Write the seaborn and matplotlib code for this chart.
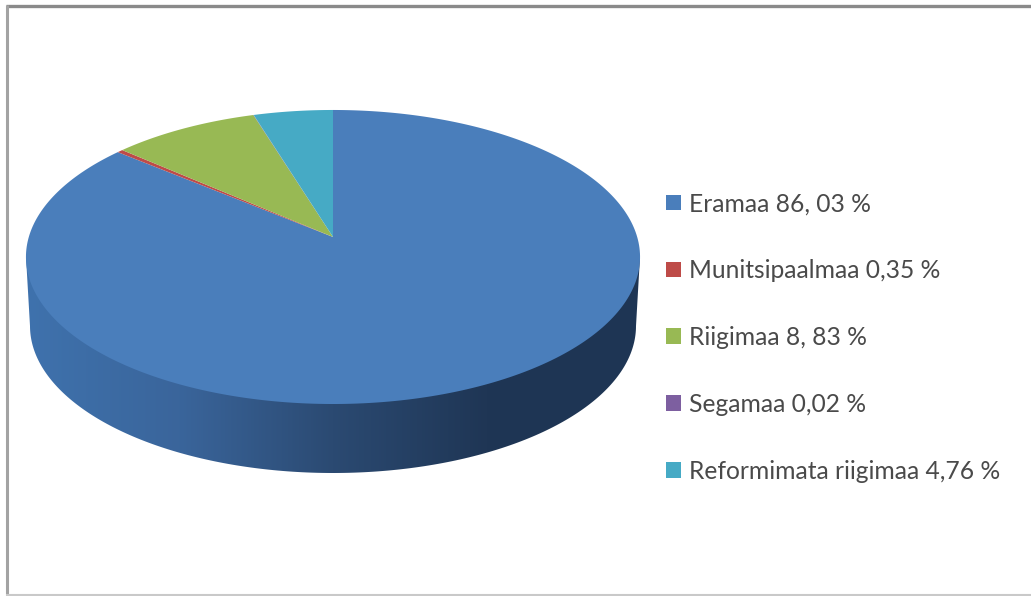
import numpy as np
import matplotlib
matplotlib.use("Agg")
import matplotlib.pyplot as plt
from matplotlib.patches import Polygon
import seaborn as sns

# land ownership shares, clockwise from 12 o'clock
categories = ["Eramaa", "Munitsipaalmaa", "Riigimaa", "Segamaa", "Reformimata riigimaa"]
shares = [86.03, 0.35, 8.83, 0.02, 4.76]
share_labels = ["86, 03 %", "0,35 %", "8, 83 %", "0,02 %", "4,76 %"]
colors = ["#4a7ebb", "#be4b48", "#98b954", "#7d5fa0", "#46aac5"]
wall_colors = ["#3f72ad", "#3a659b", "#2b4a72", "#1f3655", "#1e3554"]

sns.set_theme(style="white")
plt.rcParams["font.family"] = ["Lato", "DejaVu Sans"]

fig, ax = plt.subplots(figsize=(10.31, 5.96), dpi=100)
fig.subplots_adjust(0, 0, 1, 1)

wedges, _ = ax.pie(shares, colors=colors, startangle=90, counterclock=False)


def project(theta):
    # unit circle seen in perspective, apex sits above the ellipse centre
    px, py = np.cos(theta), np.sin(theta)
    k = 0.136
    return 333 + 304.2 * px / (1 + k * py), 237 - 144.3 * py / (1 + k * py)


# side wall: horizontal gradient clipped to the lower outline
t = np.linspace(np.pi, 2 * np.pi, 200)
wall_x = np.r_[26, 333 + 303 * np.cos(t), 640]
wall_y = np.r_[257, 326 - 147 * np.sin(t), 257]
wall_cmap = sns.blend_palette(wall_colors, as_cmap=True)
im = ax.imshow(np.linspace(0, 1, 256)[None, :], cmap=wall_cmap, extent=(26, 640, 480, 250), aspect="auto", zorder=1)
clip = Polygon(np.c_[wall_x, wall_y], transform=ax.transData, fc="none", ec="none")
ax.add_patch(clip)
im.set_clip_path(clip)

# top face, rebuilt from the pie's own wedges
handles = []
for w in wedges:
    th = np.radians(np.linspace(w.theta1, w.theta2, 300))
    x, y = project(th)
    color = w.get_facecolor()
    w.remove()
    face = ax.fill(np.r_[333, x], np.r_[237, y], color=color, lw=0, zorder=2)[0]
    handles.append(face)

# picture frame
ax.hlines(5.5, 6, 1031, color="#8a8a8a", lw=2.4, zorder=3)
ax.vlines(7, 5, 596, color="#a3a3a3", lw=2.2, zorder=3)
ax.hlines(595, 6, 1031, color="#c9c9c9", lw=1.5, zorder=3)

labels = [f"{c} {s}" for c, s in zip(categories, share_labels)]
ax.legend(handles, labels, loc="center left", bbox_to_anchor=(666, 337.5), bbox_transform=ax.transData,
          frameon=False, fontsize=17.7, labelcolor="#4a4a4a", handlelength=0.61, handleheight=0.61,
          handletextpad=0.33, labelspacing=1.785, borderpad=0, borderaxespad=0)

ax.set_aspect("auto")
ax.set_xlim(0, 1031)
ax.set_ylim(596, 0)
ax.axis("off")

fig.savefig("out.png", dpi=100, facecolor="white")
